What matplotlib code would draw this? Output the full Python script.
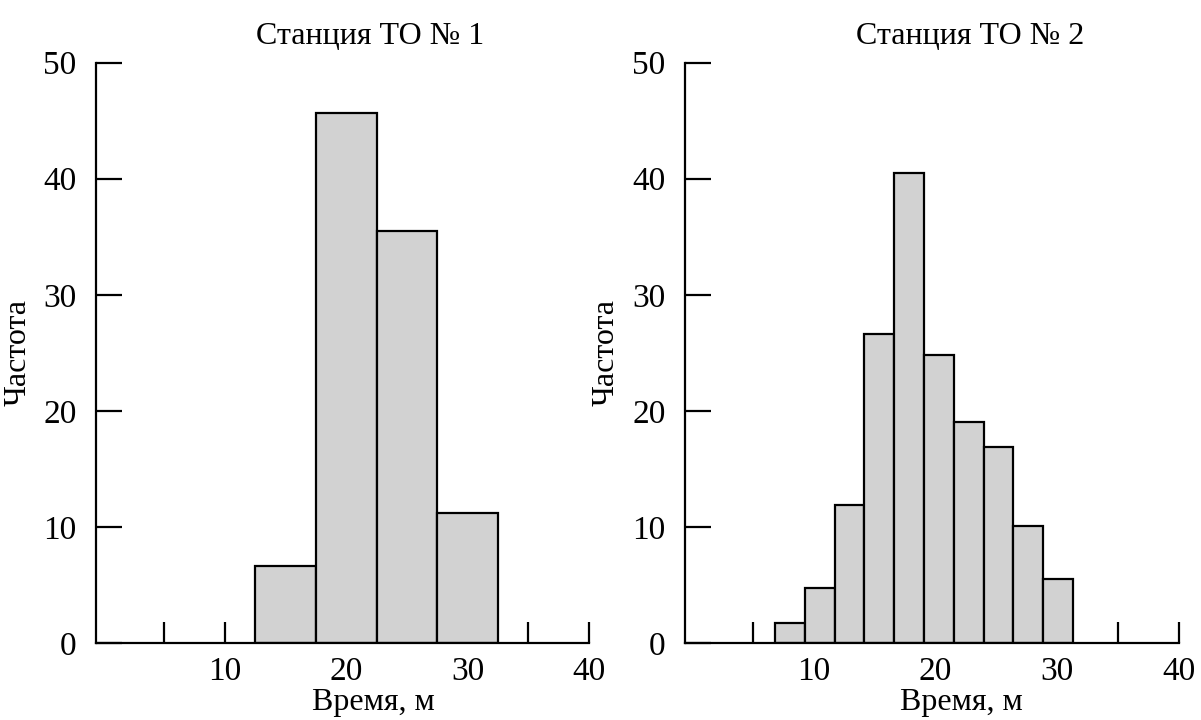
import numpy as np
import matplotlib
matplotlib.use("Agg")
import matplotlib.pyplot as plt
from matplotlib.ticker import FixedLocator

# === DATA ===
titles = ["Станция ТО № 1", "Станция ТО № 2"]
x_label = "Время, м"
y_label = "Частота"

# station 1: bin edges and bar heights
edges_1 = [12.5, 17.5, 22.5, 27.5, 32.5]
freq_1 = [6.6, 45.7, 35.5, 11.2]

# station 2: bin edges and bar heights
edges_2 = [6.8, 9.25, 11.7, 14.15, 16.6, 19.05, 21.5, 23.95, 26.4, 28.85, 31.3]
freq_2 = [1.7, 4.7, 11.9, 26.6, 40.5, 24.8, 19.0, 16.9, 10.1, 5.5]

x_ticks = [10, 20, 30, 40]
x_minor = [5, 15, 25, 35]
y_ticks = [0, 10, 20, 30, 40, 50]

# === STYLE ===
plt.rcParams["font.family"] = ["Liberation Serif", "DejaVu Serif"]
BAR_COLOR = "#d2d2d2"
LW = 1.6

fig = plt.figure(figsize=(12.01, 7.2), dpi=100)
axes = [fig.add_axes([0.080, 0.107, 0.4105, 0.806]),
        fig.add_axes([0.5704, 0.107, 0.411, 0.806])]
title_x = [0.556, 0.577]
xlabel_x = [0.562, 0.560]

for ax, edges, freq, title, tx, lx in zip(axes, [edges_1, edges_2], [freq_1, freq_2],
                                          titles, title_x, xlabel_x):
    edges = np.asarray(edges)
    ax.bar(edges[:-1], freq, width=np.diff(edges), align="edge",
           color=BAR_COLOR, edgecolor="black", linewidth=LW)

    ax.set_xlim(-0.6, 40)
    ax.set_ylim(0, 50)
    ax.set_axisbelow(True)  # ticks hidden behind the bars

    for side in ["top", "right"]:
        ax.spines[side].set_visible(False)
    for side in ["left", "bottom"]:
        ax.spines[side].set_linewidth(LW)

    ax.set_xticks(x_ticks)
    ax.xaxis.set_minor_locator(FixedLocator(x_minor))
    ax.set_yticks(y_ticks)
    ax.tick_params(axis="x", which="both", direction="in", length=15, width=LW,
                   labelsize=24, pad=10)
    ax.tick_params(axis="y", direction="in", length=19, width=LW,
                   labelsize=24, pad=14)

    ax.text(tx, 1.045, title, transform=ax.transAxes, ha="center", va="center",
            fontsize=23)
    ax.text(lx, -0.103, x_label, transform=ax.transAxes, ha="center", va="center",
            fontsize=23)
    ax.set_ylabel(y_label, fontsize=23, labelpad=8)

fig.savefig("out.png", dpi=100)
